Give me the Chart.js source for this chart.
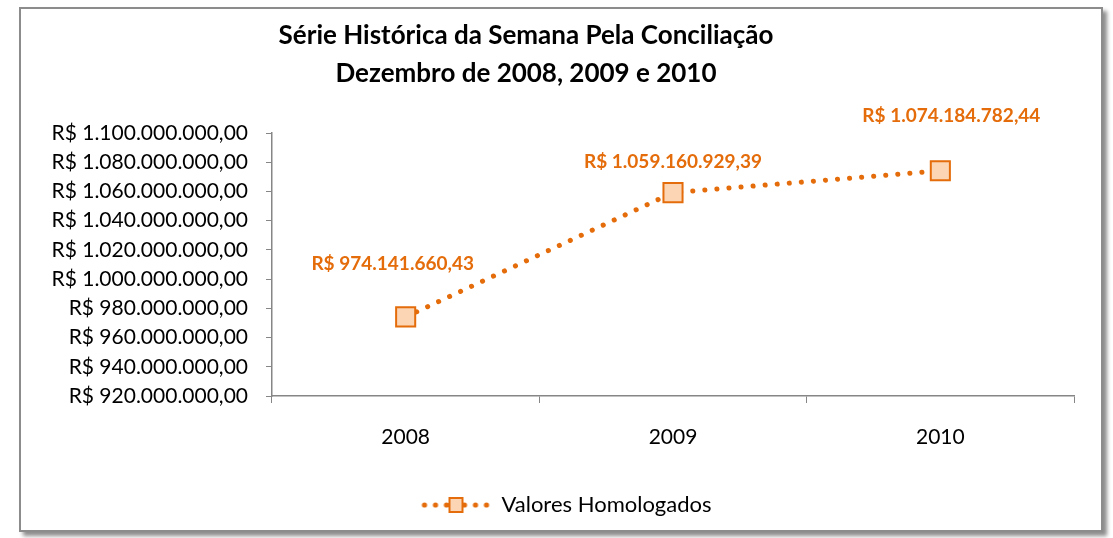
<!DOCTYPE html>
<html>
<head>
<meta charset="utf-8">
<script src="https://cdn.jsdelivr.net/npm/chart.js@4/dist/chart.umd.min.js"></script>
<style>
  html, body { margin:0; padding:0; background:#fff; }
  #wrap { position:relative; width:1113px; height:538px; }
  #c { position:absolute; left:0; top:0; }
  #frame { position:absolute; left:19px; top:7px; width:1080px; height:521px;
           border:2px solid #8c8c8c; box-shadow:4px 4px 4px rgba(0,0,0,0.45); pointer-events:none; }
</style>
</head>
<body>
<div id="wrap">
  <canvas id="c" width="1113" height="538"></canvas>
  <div id="frame"></div>
</div>
<script>
const categories = ['2008', '2009', '2010'];
const seriesName = 'Valores Homologados';
const values = [974141660.43, 1059160929.39, 1074184782.44];
const titleLines = ['Série Histórica da Semana Pela Conciliação', 'Dezembro de 2008, 2009 e 2010'];
const yMin = 920000000, yMax = 1100000000, yStep = 20000000;

const ORANGE = '#E46C0A';
const FILL = '#FCD5B5';
const FONT = 'Lato, "Open Sans", sans-serif';

function brl(v) {
  const neg = v < 0; v = Math.abs(v);
  const fixed = v.toFixed(2);
  let [ip, dp] = fixed.split('.');
  ip = ip.replace(/\B(?=(\d{3})+(?!\d))/g, '.');
  return 'R$ ' + (neg ? '-' : '') + ip + ',' + dp;
}

// legend sample: dotted line with square marker
const legendImg = document.createElement('canvas');
legendImg.width = 70; legendImg.height = 20;
(function () {
  const g = legendImg.getContext('2d');
  g.fillStyle = ORANGE;
  [4, 15, 26, 44, 55, 66].forEach(x => { g.beginPath(); g.arc(x, 10, 2.6, 0, Math.PI * 2); g.fill(); });
  g.fillStyle = FILL; g.strokeStyle = ORANGE; g.lineWidth = 2;
  g.fillRect(29, 3, 13, 14); g.strokeRect(29, 3, 13, 14);
})();

const titlePlugin = {
  id: 'customTitle',
  afterDraw(chart, args, opts) {
    const ctx = chart.ctx;
    ctx.save();
    ctx.fillStyle = '#000';
    ctx.font = 'bold ' + opts.size + 'px ' + FONT;
    ctx.textAlign = 'center';
    ctx.textBaseline = 'alphabetic';
    opts.lines.forEach((t, i) => ctx.fillText(t, opts.x, opts.y + i * opts.lineHeight));
    ctx.restore();
  }
};

const labelPlugin = {
  id: 'pointLabels',
  afterDatasetsDraw(chart, args, opts) {
    const ctx = chart.ctx;
    const meta = chart.getDatasetMeta(0);
    ctx.save();
    ctx.fillStyle = ORANGE;
    ctx.font = 'bold ' + opts.size + 'px ' + FONT;
    ctx.textAlign = 'center';
    ctx.textBaseline = 'middle';
    meta.data.forEach((pt, i) => {
      const off = opts.offsets[i];
      ctx.fillText(brl(chart.data.datasets[0].data[i]), pt.x + off[0], pt.y + off[1]);
    });
    ctx.restore();
  }
};

// narrow the legend box on the left so it centres under the frame
const legendShift = {
  id: 'legendShift',
  afterLayout(chart, args, opts) {
    if (chart.legend) { chart.legend.left += opts.left; }
  }
};

new Chart(document.getElementById('c'), {
  type: 'line',
  data: {
    labels: categories,
    datasets: [{
      label: seriesName,
      data: values,
      borderColor: ORANGE,
      borderWidth: 5,
      borderDash: [0.1, 12],
      borderCapStyle: 'round',
      tension: 0,
      fill: false,
      pointStyle: 'rect',
      pointRadius: 13.5,
      pointHoverRadius: 13.5,
      pointBackgroundColor: FILL,
      pointBorderColor: ORANGE,
      pointBorderWidth: 2
    }]
  },
  options: {
    responsive: false,
    animation: false,
    events: [],
    layout: { padding: { top: 133, right: 39, left: 0, bottom: 12 } },
    scales: {
      x: {
        offset: true,
        grid: { offset: true, drawOnChartArea: false, tickLength: 7, color: '#868686', lineWidth: 1 },
        border: { color: '#868686', width: 1.5 },
        ticks: { color: '#000', font: { family: FONT, size: 21 }, padding: 22 },
        afterFit(s) { s.height = 88; }
      },
      y: {
        min: yMin, max: yMax,
        grid: { drawOnChartArea: false, tickLength: 6, color: '#868686' },
        border: { color: '#868686', width: 1.5 },
        ticks: { stepSize: yStep, color: '#000', font: { family: FONT, size: 21 }, padding: 18,
                 callback: v => brl(v) },
        afterFit(s) { s.width = 272; }
      }
    },
    plugins: {
      legend: {
        position: 'bottom',
        labels: {
          usePointStyle: true,
          pointStyle: legendImg,
          pointStyleWidth: 70,
          boxHeight: 20,
          color: '#000',
          font: { family: FONT, size: 22 },
          padding: 10
        }
      },
      title: { display: false },
      tooltip: { enabled: false },
      legendShift: { left: 58 },
      customTitle: { lines: titleLines, x: 526, y: 44, lineHeight: 38, size: 26 },
      pointLabels: { size: 19, offsets: [[-13, -53], [0, -31], [11, -55]] }
    }
  },
  plugins: [legendShift, titlePlugin, labelPlugin]
});
</script>
</body>
</html>
